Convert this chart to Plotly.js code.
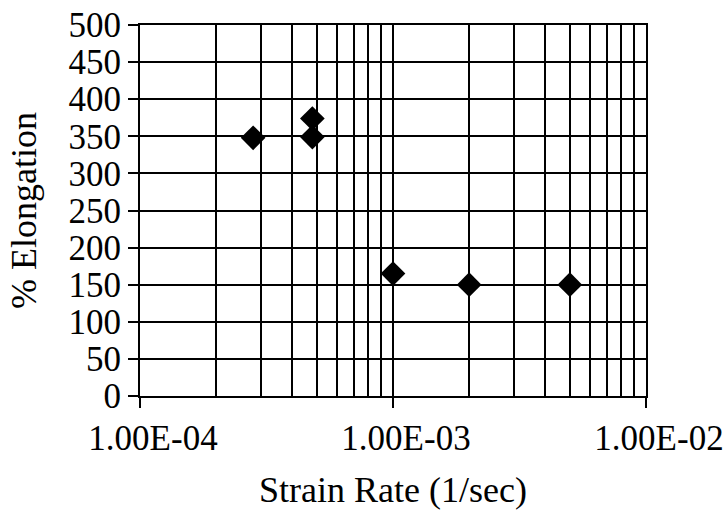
<!DOCTYPE html>
<html>
<head>
<meta charset="utf-8">
<script src="https://cdn.plot.ly/plotly-3.0.1.min.js"></script>
<style>html,body{margin:0;padding:0;background:#fff;}#chart{width:726px;height:510px;}</style>
</head>
<body>
<div id="chart"></div>
<script>
// Data
const strainRate = [2.8e-4, 4.8e-4, 4.8e-4, 1.0e-3, 2.0e-3, 5.0e-3];
const elongation = [348, 374, 349, 165, 150, 150];

// Axis labels
const xTickVals = [1e-4, 1e-3, 1e-2];
const xTickText = ['1.00E-04', '1.00E-03', '1.00E-02'];
const yTickVals = [0, 50, 100, 150, 200, 250, 300, 350, 400, 450, 500];
const xTitle = 'Strain Rate (1/sec)';
const yTitle = '% Elongation';

const font = 'Liberation Serif, Times New Roman, serif';

const trace = {
  x: strainRate,
  y: elongation,
  type: 'scatter',
  mode: 'markers',
  marker: {symbol: 'diamond', size: 19, color: '#000'},
  hoverinfo: 'x+y'
};

const layout = {
  width: 726, height: 510,
  paper_bgcolor: '#fff', plot_bgcolor: '#fff',
  margin: {l: 140, r: 80, t: 25, b: 114},
  showlegend: false,
  font: {family: font, color: '#000', size: 35},
  xaxis: {
    type: 'log',
    range: [-4, -2],
    tickmode: 'array',
    tickvals: xTickVals,
    ticktext: xTickText,
    ticklabelshift: 13,
    ticklabeloverflow: 'allow',
    ticks: 'outside', ticklen: 10, tickwidth: 2, tickcolor: '#000',
    showgrid: true, gridcolor: '#000', gridwidth: 2,
    showline: true, linecolor: '#000', linewidth: 2, mirror: true,
    zeroline: false,
    tickfont: {family: font, size: 35, color: '#000'},
    minor: {dtick: 'D1', showgrid: true, gridcolor: '#000', gridwidth: 2, ticks: ''},
    title: {text: xTitle, font: {family: font, size: 36, color: '#000'}, standoff: 21},
    automargin: false
  },
  yaxis: {
    range: [0, 500],
    tickmode: 'array',
    tickvals: yTickVals,
    ticks: 'outside', ticklen: 10, tickwidth: 2, tickcolor: '#000',
    showgrid: true, gridcolor: '#000', gridwidth: 2,
    showline: true, linecolor: '#000', linewidth: 2, mirror: true,
    zeroline: false,
    tickfont: {family: font, size: 35, color: '#000'},
    title: {text: yTitle, font: {family: font, size: 36, color: '#000'}, standoff: 21},
    automargin: false
  }
};

Plotly.newPlot('chart', [trace], layout, {displayModeBar: false, staticPlot: true});
</script>
</body>
</html>
